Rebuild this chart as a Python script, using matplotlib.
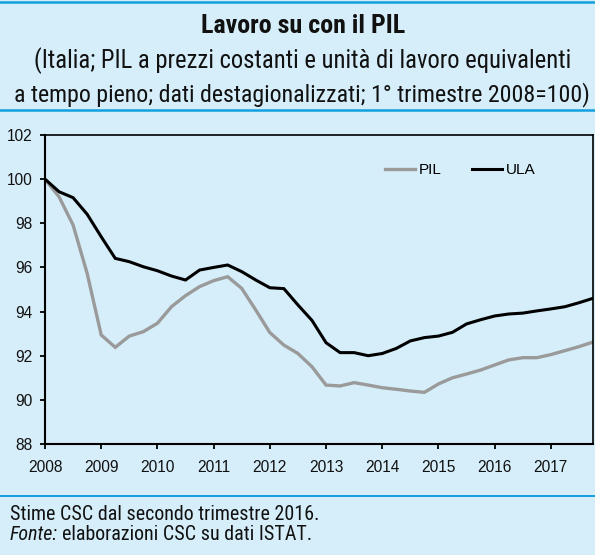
import os
import matplotlib
matplotlib.use("Agg")
import matplotlib.pyplot as plt
from matplotlib.lines import Line2D
from matplotlib import font_manager as fm
import numpy as np

years = np.arange(2008, 2018, 0.25)  # quarterly, 2008Q1..2017Q4

pil = [100.0, 99.2, 97.92, 95.73, 92.94, 92.38, 92.89, 93.09, 93.47, 94.22,
       94.72, 95.13, 95.40, 95.58, 95.05, 94.07, 93.05, 92.48, 92.10, 91.50,
       90.67, 90.63, 90.78, 90.67, 90.55, 90.48, 90.40, 90.34, 90.72, 91.00,
       91.17, 91.35, 91.58, 91.81, 91.91, 91.91, 92.05, 92.23, 92.41, 92.62]

ula = [100.0, 99.43, 99.16, 98.41, 97.39, 96.41, 96.26, 96.03, 95.85, 95.61,
       95.43, 95.88, 96.00, 96.11, 95.81, 95.43, 95.08, 95.04, 94.30, 93.60,
       92.59, 92.14, 92.14, 92.00, 92.10, 92.33, 92.67, 92.82, 92.89, 93.06,
       93.44, 93.63, 93.80, 93.89, 93.93, 94.03, 94.12, 94.22, 94.40, 94.60]

xtick_labels = ["2008", "2009", "2010", "2011", "2012",
                "2013", "2014", "2015", "2016", "2017"]
yticks = [88, 90, 92, 94, 96, 98, 100, 102]

title = "Lavoro su con il PIL"
subtitle1 = "(Italia; PIL a prezzi costanti e unità di lavoro equivalenti"
subtitle2 = "a tempo pieno; dati destagionalizzati; 1° trimestre 2008=100)"
note1 = "Stime CSC dal secondo trimestre 2016."
note2_it = "Fonte:"
note2 = "elaborazioni CSC su dati ISTAT."

BG = "#D6EEFA"
BLUE = "#12A0DE"
GREY = "#9A9A9A"
SANS = ["Liberation Sans", "DejaVu Sans"]


# ---- pick a narrow/condensed font if one is installed ----
def pick_narrow():
    prefs = ["liberationsansnarrow", "robotocondensed", "opensanscondensed",
             "notosanscondensed", "dejavusanscondensed", "archivonarrow",
             "ptsansnarrow"]
    files = {}
    for f in fm.fontManager.ttflist:
        base = os.path.basename(f.fname)
        stem = os.path.splitext(base)[0]
        norm = stem.lower().replace("-", "").replace("_", "").replace(" ", "")
        for key in prefs:
            if norm.startswith(key):
                rest = norm[len(key):]
                style = {"": "regular", "regular": "regular", "book": "regular",
                         "bold": "bold", "italic": "italic", "oblique": "italic",
                         "bolditalic": "bolditalic", "boldoblique": "bolditalic"}.get(rest)
                if style:
                    files.setdefault(key, {})[style] = f.fname
    for key in prefs:
        d = files.get(key, {})
        if "regular" in d:
            return (d["regular"], d.get("bold"), d.get("italic"))
    return None


narrow = pick_narrow()


def fprops(style, size):
    if narrow is not None:
        reg, bold, ital = narrow
        if style == "bold":
            if bold:
                return fm.FontProperties(fname=bold, size=size)
            return fm.FontProperties(fname=reg, size=size, weight="bold")
        if style == "italic":
            if ital:
                return fm.FontProperties(fname=ital, size=size)
            return fm.FontProperties(fname=reg, size=size, style="italic")
        return fm.FontProperties(fname=reg, size=size)
    return fm.FontProperties(family=SANS, size=size,
                             weight="bold" if style == "bold" else "normal",
                             style="italic" if style == "italic" else "normal")


W, H = 595, 555
fig = plt.figure(figsize=(W / 100, H / 100), dpi=100, facecolor=BG)


def fx(px):
    return px / W


def fy(py):
    return 1 - py / H


renderer = fig.canvas.get_renderer()


def fit_text(xpx, ypx, s, style, target_w, ha="left", size=14.0):
    t = fig.text(fx(xpx), fy(ypx), s, ha=ha, va="baseline",
                 fontproperties=fprops(style, size), color="#111111")
    w = t.get_window_extent(renderer).width
    if w > 0:
        new = size * target_w / w
        t.set_fontproperties(fprops(style, new))
    return t


# axes: x 45..593, y 135..444 (pixels)
ax = fig.add_axes([fx(45), fy(444), fx(593) - fx(45), fy(135) - fy(444)])
ax.set_facecolor(BG)

ax.plot(years, pil, color=GREY, lw=2.4, solid_joinstyle="miter", label="PIL")
ax.plot(years, ula, color="black", lw=2.2, solid_joinstyle="miter", label="ULA")

ax.set_xlim(2008, 2017.75)
ax.set_ylim(88, 102)
ax.set_xticks([int(y) for y in xtick_labels])
ax.set_xticklabels(xtick_labels, family=SANS, fontsize=11.2)
ax.set_yticks(yticks)
ax.set_yticklabels([str(v) for v in yticks], family=SANS, fontsize=11.2)
ax.tick_params(axis="both", direction="out", length=3.8, width=1.3, color="black",
               labelcolor="#111111")
ax.tick_params(axis="x", pad=7.5)
ax.tick_params(axis="y", pad=5.0)

for side in ["left", "bottom"]:
    ax.spines[side].set_linewidth(1.5)
for side in ["top", "right"]:
    ax.spines[side].set_linewidth(1.2)

ax.legend(loc="center left", bbox_to_anchor=(0.620, 0.887), ncol=2, frameon=False,
          borderaxespad=0, borderpad=0,
          handlelength=2.0, handletextpad=0.2, columnspacing=2.0,
          prop={"family": SANS, "size": 11.0})

# header
fit_text(303, 33, title, "bold", 205, ha="center")
fit_text(302.5, 68, subtitle1, "regular", 539, ha="center")
fit_text(301.5, 101, subtitle2, "regular", 579, ha="center")
fig.add_artist(Line2D([0, 1], [fy(2), fy(2)], color=BLUE, lw=1.8))
fig.add_artist(Line2D([0, 1], [fy(110), fy(110)], color=BLUE, lw=1.8))
fig.add_artist(Line2D([0, 1], [fy(496), fy(496)], color=BLUE, lw=1.4))

# footnote
t1 = fit_text(10, 520, note1, "regular", 311)
fsize = t1.get_fontproperties().get_size_in_points()
t_it = fig.text(fx(10), fy(540), note2_it, ha="left", va="baseline",
                fontproperties=fprops("italic", fsize), color="#111111")
w_it = t_it.get_window_extent(renderer).width
fig.text(fx(10) + (w_it + 4) / W, fy(540), note2, ha="left", va="baseline",
         fontproperties=fprops("regular", fsize), color="#111111")

fig.savefig("out.png", dpi=100, facecolor=BG)
